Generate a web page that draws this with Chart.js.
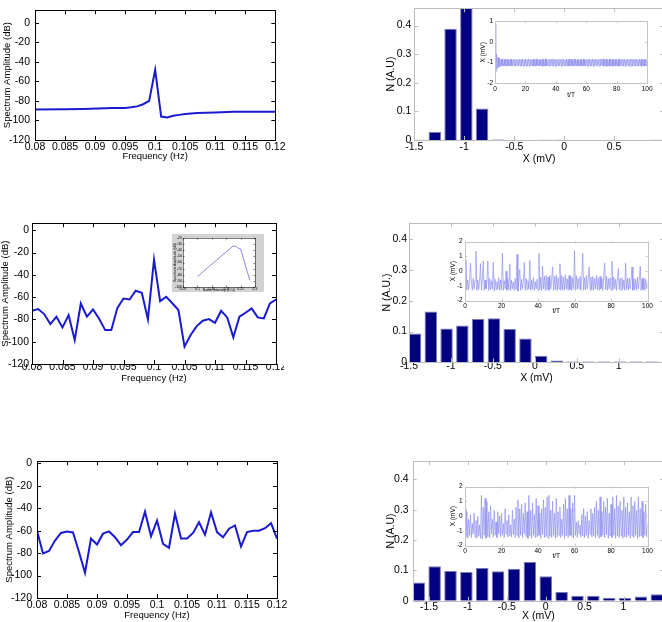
<!DOCTYPE html>
<html>
<head>
<meta charset="utf-8">
<script src="https://cdn.jsdelivr.net/npm/chart.js@4.4.1/dist/chart.umd.min.js"></script>
<style>
  html, body { margin: 0; padding: 0; background: #fff; overflow: hidden; }
  body { position: relative; width: 662px; height: 622px; }
  canvas { position: absolute; }
</style>
</head>
<body>
<script>
// ---- spectra (left column) ----
const freqTicks = [0.08, 0.085, 0.09, 0.095, 0.1, 0.105, 0.11, 0.115, 0.12];
const ampTicks = [-120, -100, -80, -60, -40, -20, 0];

const spec1Freq = [0.080, 0.085, 0.088, 0.093, 0.095, 0.096, 0.097, 0.098, 0.099, 0.100,
                   0.101, 0.102, 0.103, 0.104, 0.105, 0.107, 0.110, 0.113, 0.120];
const spec1Amp = [-88.9, -88.6, -88.2, -87.3, -87.2, -86.6, -85.6, -83.4, -80, -48.3,
                  -96, -97, -95.2, -94.3, -93.5, -92.5, -92, -91.2, -91.1];

const specFreq = [0.080, 0.081, 0.082, 0.083, 0.084, 0.085, 0.086, 0.087, 0.088, 0.089,
                  0.090, 0.091, 0.092, 0.093, 0.094, 0.095, 0.096, 0.097, 0.098, 0.099,
                  0.100, 0.101, 0.102, 0.103, 0.104, 0.105, 0.106, 0.107, 0.108, 0.109,
                  0.110, 0.111, 0.112, 0.113, 0.114, 0.115, 0.116, 0.117, 0.118, 0.119, 0.120];
const spec2Amp = [-72.2, -70.7, -75.2, -84.2, -77.6, -87.2, -76.1, -98.5, -65.7, -77.6,
                  -71, -79.4, -89.6, -89.6, -69.6, -61.2, -62.1, -54.3, -56.1, -80,
                  -26.3, -63.6, -59.7, -65.5, -71.6, -104.5, -94, -86, -81.2, -79.7,
                  -83, -72.2, -78.2, -96.1, -77.6, -74, -70.1, -78.2, -79.1, -65.7, -62.1];
const spec3Amp = [-60, -80.2, -78.1, -68.8, -62, -60.6, -61.5, -79, -97.5, -67,
                  -72.3, -62.6, -60.6, -65.8, -72.9, -67.9, -61.2, -61.2, -43, -65,
                  -50.9, -71.7, -75.2, -44.8, -67, -67, -62, -52.4, -63.5, -43.6,
                  -61.2, -65.8, -58.2, -55.3, -74, -61.2, -60, -60, -57.7, -53.3, -67];

// small inset: amplitude at 0.1 Hz vs noise intensity
const noiseTicks = [0.05, 0.1, 0.15, 0.2, 0.25, 0.3];
const noiseAmpTicks = [-100, -90, -80, -70, -60, -50, -40, -30, -20];
const noiseD = [0.1, 0.204, 0.212, 0.224, 0.235, 0.243, 0.25, 0.282];
const noiseAmp = [-83, -41, -38, -33, -34, -37, -38, -89];

// ---- histograms (right column) ----
const histTicks1 = [-1.5, -1, -0.5, 0, 0.5];
const histTicks = [-1.5, -1, -0.5, 0, 0.5, 1];
const countTicks = [0, 0.1, 0.2, 0.3, 0.4];

const histX1 = [-1.453, -1.295, -1.137, -0.979, -0.821, -0.663, -0.505, -0.347,
                -0.189, -0.031, 0.127, 0.285, 0.443, 0.601, 0.759, 0.917];
const histN1 = [0.001, 0.028, 0.389, 0.47, 0.11, 0.002, 0, 0, 0.001, 0.001, 0, 0, 0, 0, 0, 0.001];

const histX2 = [-1.428, -1.24, -1.052, -0.864, -0.676, -0.488, -0.3, -0.112,
                0.076, 0.264, 0.452, 0.64, 0.828, 1.016, 1.204, 1.392];
const histN2 = [0.094, 0.165, 0.11, 0.12, 0.141, 0.143, 0.108, 0.077,
                0.021, 0.006, 0.003, 0.003, 0.003, 0.003, 0.003, 0.003];

const histX3 = [-1.632, -1.428, -1.224, -1.02, -0.816, -0.612, -0.408, -0.204,
                0, 0.204, 0.408, 0.612, 0.816, 1.02, 1.224, 1.428];
const histN3 = [0.06, 0.114, 0.098, 0.095, 0.108, 0.097, 0.105, 0.128,
                0.081, 0.029, 0.016, 0.016, 0.01, 0.009, 0.014, 0.021];

// ---- time series insets, one sample every 0.5 t/T ----
const tTicks = [0, 20, 40, 60, 80, 100];
const xTicks1 = [-2, -1, 0, 1];
const xTicks = [-2, -1, 0, 1, 2];
const sampleStep = 0.5;

const trace1 = [
  0.9, -1.45, -0.6, -1.3, -0.75, -1.22, -0.8, -1.18, -0.84, -1.16, -0.82, -1.17, -0.85, -1.15, -0.83, -1.18, -0.84, -1.16, -0.86, -1.15,
  -0.84, -1.16, -0.82, -1.17, -0.85, -1.15, -0.83, -1.18, -0.84, -1.16, -0.86, -1.15, -0.82, -1.17, -0.84, -1.16, -0.83, -1.18, -0.85, -1.15,
  -0.83, -1.17, -0.85, -1.16, -0.82, -1.18, -0.84, -1.15, -0.86, -1.17, -0.83, -1.16, -0.85, -1.18, -0.82, -1.15, -0.84, -1.17, -0.86, -1.16,
  -0.85, -1.15, -0.83, -1.18, -0.84, -1.16, -0.82, -1.17, -0.85, -1.15, -0.86, -1.18, -0.83, -1.16, -0.84, -1.17, -0.82, -1.15, -0.85, -1.18,
  -0.84, -1.17, -0.86, -1.15, -0.83, -1.16, -0.85, -1.18, -0.82, -1.17, -0.84, -1.15, -0.86, -1.16, -0.83, -1.18, -0.85, -1.17, -0.82, -1.16,
  -0.83, -1.16, -0.85, -1.18, -0.84, -1.15, -0.82, -1.17, -0.86, -1.16, -0.83, -1.18, -0.85, -1.15, -0.84, -1.17, -0.82, -1.16, -0.86, -1.15,
  -0.85, -1.18, -0.83, -1.16, -0.84, -1.17, -0.86, -1.15, -0.82, -1.18, -0.85, -1.16, -0.83, -1.17, -0.84, -1.15, -0.86, -1.18, -0.82, -1.16,
  -0.84, -1.15, -0.82, -1.17, -0.85, -1.16, -0.83, -1.18, -0.86, -1.15, -0.84, -1.17, -0.82, -1.16, -0.85, -1.18, -0.83, -1.15, -0.84, -1.17,
  -0.86, -1.16, -0.84, -1.18, -0.82, -1.15, -0.85, -1.17, -0.83, -1.16, -0.84, -1.18, -0.86, -1.15, -0.82, -1.17, -0.85, -1.16, -0.83, -1.18,
  -0.82, -1.17, -0.85, -1.15, -0.83, -1.18, -0.84, -1.16, -0.86, -1.17, -0.82, -1.15, -0.84, -1.18, -0.85, -1.16, -0.83, -1.17, -0.86, -1.15,
  -0.84
];

const trace2 = [
  -0.7, 0.8, -1.3, -0.6, -1.25, -0.55, 0.55, -0.7, -1.3, -0.5,
  -1.2, -0.65, 1.35, -1.3, -0.6, -1.25, -0.75, 0.5, -1.3, -0.55,
  0.68, -1.3, -0.6, -1.2, -0.7, 0.68, -1.3, -0.5, -1.25, -0.65,
  -1.2, 0.6, -1.35, -0.55, -1.25, -0.7, -1.2, -0.45, -1.3, -0.6,
  -1.25, 1.2, -1.3, -0.65, -1.2, 0.0, -1.3, -0.55, -1.25, 0.5,
  -1.3, -0.6, -1.2, -0.75, -1.3, -0.5, -1.25, 1.13, -1.35, -0.6,
  0.1, -1.3, -0.55, -1.2, -0.7, 0.6, -1.3, -0.5, -1.25, -0.65,
  -1.2, 0.72, -1.3, -0.6, -1.25, -0.45, -1.3, -0.7, -1.2, -0.55,
  -1.3, 1.2, -1.25, -0.4, -1.3, 0.33, -1.2, -0.35, -1.3, -0.3,
  -1.25, -0.4, -1.3, -0.3, -1.2, -0.5, 0.28, -1.3, -0.35, -1.25,
  -0.25, -1.3, -0.45, -1.2, 0.5, -1.3, -0.3, -1.25, -0.4, -1.3,
  -0.25, -1.2, -0.5, -1.3, -0.3, -1.25, -0.35, -1.3, -0.45, -1.2,
  1.4, -1.3, -0.3, -1.25, -0.5, -1.2, -0.35, -1.3, -0.4, 1.2,
  -1.3, -0.45, -1.25, -0.3, -1.2, -0.55, 0.28, -1.3, -0.4, -1.25,
  -0.35, -1.3, -0.5, -1.2, -0.3, -1.25, -0.45, -1.3, -0.35, -1.2,
  -0.5, -1.3, -0.4, 0.55, -1.25, -0.35, -1.3, -0.5, -1.2, -0.45,
  -1.3, 0.68, -1.25, -0.4, -1.2, -0.55, -1.3, -0.45, 0.17, -1.25,
  -0.5, -1.3, -0.45, -1.2, -0.6, -1.3, 0.55, -1.25, -0.5, -1.3,
  -0.45, -1.2, -0.6, 0.28, -1.3, -0.5, -1.25, -0.55, -1.3, -0.4,
  -1.2, -0.6, 0.33, -1.3, -0.5, -1.25, -0.45, -1.3, -0.55, -1.2,
  -0.7
];

const trace3 = [
  0.5, -1.4, 0.3, -1.5, -0.2, -1.3, 0.1, -1.45, -0.5, -1.2,
  0.2, -1.4, -0.3, -1.5, 0.0, -1.35, -0.6, -1.5, 1.4, -1.55,
  0.6, -1.3, 1.2, -1.5, 1.0, -1.4, 0.3, -1.45, 0.7, -1.2,
  -0.2, -1.4, 0.4, -1.3, -0.4, -1.45, 0.3, -1.2, 0.0, -1.4,
  0.2, -1.3, -0.5, -1.45, 0.5, -1.2, -0.3, -1.4, 0.1, -1.35,
  -0.6, -1.4, 0.4, -1.25, -0.2, -1.45, 0.6, -1.3, 1.1, -1.5,
  0.5, -1.3, 0.8, -1.45, 0.2, -1.2, 0.9, -1.4, 0.3, -1.5,
  1.4, -1.35, 0.4, -1.5, 0.9, -1.3, 0.1, -1.45, 1.2, -1.4,
  0.7, -1.3, 0.2, -1.5, 0.5, -1.25, 1.1, -1.45, 0.6, -1.4,
  1.3, -1.5, 1.4, -1.35, 0.4, -1.45, 1.0, -1.3, 0.2, -1.5,
  1.2, -1.4, 0.3, -1.3, 0.6, -1.45, -0.2, -1.3, 0.8, -1.5,
  1.2, -1.35, 0.5, -1.45, 1.4, -1.3, 0.5, -1.4, 0.9, -1.5,
  1.4, -1.3, -0.4, -1.45, -0.3, -1.2, -0.6, -1.4, 0.1, -1.35,
  0.5, -1.45, 0.0, -1.3, 0.3, -1.5, -0.3, -1.2, 0.5, -1.4,
  0.2, -1.35, 0.6, -1.45, 1.0, -1.3, 0.4, -1.5, 1.3, -1.4,
  0.3, -1.3, 1.0, -1.45, 0.6, -1.25, 1.2, -1.5, 0.2, -1.35,
  0.8, -1.45, 1.3, -1.3, 0.5, -1.5, 1.4, -1.35, 0.7, -1.45,
  1.0, -1.3, 0.4, -1.5, 1.3, -1.4, 0.6, -1.45, 0.9, -1.3,
  0.3, -1.5, 1.3, -1.35, 0.7, -1.45, 1.0, -1.3, 0.4, -1.5,
  1.3, -1.4, 0.5, -1.35, 1.0, -1.45, 0.3, -1.3, 0.8, -1.4,
  -0.5
];

const FONT = "'Liberation Sans', Arial, Helvetica, sans-serif";

// MATLAB-like box with inward tick marks on all four sides
const boxPlugin = {
  id: 'matlabBox',
  beforeDraw(chart, args, opts) {
    const ctx = chart.ctx, a = chart.chartArea;
    ctx.save();
    if (opts.paper) { ctx.fillStyle = opts.paper; ctx.fillRect(0, 0, chart.width, chart.height); }
    if (opts.face) { ctx.fillStyle = opts.face; ctx.fillRect(a.left, a.top, a.right - a.left, a.bottom - a.top); }
    ctx.restore();
  },
  afterDraw(chart, args, opts) {
    const ctx = chart.ctx, a = chart.chartArea, len = opts.len || 4;
    const xs = chart.scales.x, ys = chart.scales.y;
    ctx.save();
    ctx.strokeStyle = opts.color || '#000';
    ctx.lineWidth = opts.width || 1;
    ctx.beginPath();
    xs.ticks.forEach(t => {
      const px = Math.round(xs.getPixelForValue(t.value)) + 0.5;
      ctx.moveTo(px, a.bottom); ctx.lineTo(px, a.bottom - len);
      ctx.moveTo(px, a.top); ctx.lineTo(px, a.top + len);
    });
    ys.ticks.forEach(t => {
      const py = Math.round(ys.getPixelForValue(t.value)) + 0.5;
      ctx.moveTo(a.left, py); ctx.lineTo(a.left + len, py);
      ctx.moveTo(a.right, py); ctx.lineTo(a.right - len, py);
    });
    ctx.stroke();
    const l = Math.round(a.left) + 0.5, t = Math.round(a.top) + 0.5;
    ctx.strokeRect(l, t, Math.round(a.right) - Math.round(a.left), Math.round(a.bottom) - Math.round(a.top));
    ctx.restore();
  }
};

function panel(g) {
  const tSize = g.title, kSize = g.tick;
  const L = g.box ? g.box.l : Math.floor(g.yTitleX - tSize / 2);
  const T = g.box ? g.box.t : Math.max(0, Math.floor(g.plot.t - (g.topPad ?? 8)));
  const R = g.box ? g.box.r : Math.ceil(g.plot.r + (g.rightPad ?? 3));
  const B = g.box ? g.box.b : Math.ceil(g.xTitleY + tSize / 2);

  const cv = document.createElement('canvas');
  cv.width = R - L; cv.height = B - T;
  cv.style.left = L + 'px'; cv.style.top = T + 'px';
  cv.style.width = (R - L) + 'px'; cv.style.height = (B - T) + 'px';
  document.body.appendChild(cv);

  const yWidth = g.plot.l - L;
  const xHeight = B - g.plot.b;
  const tickFont = { family: FONT, size: kSize, lineHeight: 1 };
  const titleFont = { family: FONT, size: tSize, lineHeight: 1 };

  return new Chart(cv, {
    type: g.type,
    data: { datasets: g.datasets },
    options: {
      responsive: false,
      animation: false,
      events: [],
      devicePixelRatio: 1,
      layout: { autoPadding: false, padding: { left: 0, bottom: 0, top: g.plot.t - T, right: R - g.plot.r } },
      plugins: {
        legend: { display: false },
        tooltip: { enabled: false },
        matlabBox: g.boxStyle
      },
      scales: {
        x: {
          type: 'linear', min: g.xMin, max: g.xMax, offset: false,
          afterBuildTicks: s => { s.ticks = g.xTicks.map(v => ({ value: v })); },
          afterFit: s => { s.height = xHeight; },
          grid: { display: false, drawTicks: false }, border: { display: false },
          ticks: { autoSkip: false, maxRotation: 0, color: '#000', font: tickFont,
                   padding: g.xGap - kSize / 2, callback: v => String(v) },
          title: { display: true, text: g.xTitle, color: '#000', font: titleFont,
                   padding: { top: 0, bottom: B - (g.xTitleY + tSize / 2) } }
        },
        y: {
          type: 'linear', min: g.yMin, max: g.yMax,
          afterBuildTicks: s => { s.ticks = g.yTicks.map(v => ({ value: v })); },
          afterFit: s => { s.width = yWidth; },
          grid: { display: false, drawTicks: false }, border: { display: false },
          ticks: { autoSkip: false, color: '#000', font: tickFont,
                   padding: g.yGap, callback: v => String(v) },
          title: { display: true, text: g.yTitle, color: '#000', font: titleFont,
                   padding: { top: (g.yTitleX - tSize / 2) - L, bottom: 0 } }
        }
      }
    },
    plugins: [boxPlugin]
  });
}

const pts = (xs, ys) => ys.map((y, i) => ({ x: xs[i], y }));
const series = ys => ys.map((y, i) => ({ x: i * sampleStep, y }));

const specLine = data => [{ data, borderColor: '#1a1ad0', borderWidth: 2, pointRadius: 0, tension: 0, fill: false }];
const bars = data => [{ data, backgroundColor: '#000080', borderColor: '#7a7ab8', borderWidth: 1,
                        barPercentage: 0.79, categoryPercentage: 1 }];
const trace = data => [{ data, borderColor: 'rgba(140,140,238,0.75)', borderWidth: 0.9, pointRadius: 0, tension: 0, fill: false }];

const blackBox = { color: '#000', len: 4 };
const greyBox = { color: '#bdbdbd', len: 4 };
const insetBox = { color: '#c4c4c4', len: 2, face: '#fff' };

const specBase = { type: 'line', xMin: 0.08, xMax: 0.12, xTicks: freqTicks, yTicks: ampTicks, yMin: -120,
                   xTitle: 'Frequency (Hz)', yTitle: 'Spectrum Amplitude (dB)', tick: 10.5, title: 9.5, boxStyle: blackBox };
const histBase = { type: 'bar', yMin: 0, yTicks: countTicks, xTitle: 'X (mV)', tick: 10.5, title: 10.5, boxStyle: greyBox };
const traceBase = { type: 'line', xMin: 0, xMax: 100, xTicks: tTicks, xTitle: 't/T', yTitle: 'X (mV)',
                    tick: 6.5, title: 6.5, boxStyle: insetBox, topPad: 5, rightPad: 6 };

// left column
panel({ ...specBase, plot: { l: 35, t: 0, r: 284, b: 140 }, yMax: 12.7, yTitleX: 7.3, xTitleY: 156.7, xGap: 6.7, yGap: 5,
        datasets: specLine(pts(spec1Freq, spec1Amp)) });
panel({ ...specBase, plot: { l: 32, t: 223, r: 281, b: 364 }, yMax: 6.3, yTitleX: 5, xTitleY: 378, xGap: 3, yGap: 3,
        datasets: specLine(pts(specFreq, spec2Amp)) });
panel({ ...specBase, plot: { l: 37, t: 459, r: 286, b: 598 }, yMax: 2, yTitleX: 9.3, xTitleY: 615, xGap: 7, yGap: 5,
        datasets: specLine(pts(specFreq, spec3Amp)) });

// inset of the middle spectrum
panel({ type: 'line', box: { l: 172, t: 234, r: 264, b: 292 }, plot: { l: 183, t: 238, r: 255, b: 287 },
        xMin: 0.05, xMax: 0.3, xTicks: noiseTicks, yMin: -100, yMax: -20, yTicks: noiseAmpTicks,
        xTitle: 'Noise Intensity (D.U)', yTitle: 'Spectrum Amplitude (dB)', tick: 3.5, title: 3.5,
        yTitleX: 175.5, xTitleY: 290, xGap: 2.3, yGap: 1,
        boxStyle: { color: '#000', len: 1.5, paper: '#d2d2d2', face: '#fff', width: 0.5 },
        datasets: [{ data: pts(noiseD, noiseAmp), borderColor: '#6a6ad8', borderWidth: 0.8, pointRadius: 0, tension: 0 }] });

// right column
panel({ ...histBase, plot: { l: 414.3, t: 0, r: 664, b: 140 }, xMin: -1.5, xMax: 1.0, xTicks: histTicks1, yMax: 0.4605,
        yTitle: 'N (A.U)', yTitleX: 391, xTitleY: 159, xGap: 6.7, yGap: 3, rightPad: 2,
        datasets: bars(pts(histX1, histN1)) });
panel({ ...histBase, plot: { l: 409, t: 222.7, r: 664, b: 362.3 }, xMin: -1.5, xMax: 1.54, xTicks: histTicks, yMax: 0.454,
        yTitle: 'N (A.U.)', yTitleX: 386.7, xTitleY: 378, xGap: 3.7, yGap: 2, rightPad: 2,
        datasets: bars(pts(histX2, histN2)) });
panel({ ...histBase, plot: { l: 412.7, t: 460, r: 664, b: 600.7 }, xMin: -1.71, xMax: 1.52, xTicks: histTicks, yMax: 0.46,
        yTitle: 'N (A.U)', yTitleX: 391, xTitleY: 615.7, xGap: 6, yGap: 4, rightPad: 2,
        datasets: bars(pts(histX3, histN3)) });

// time series insets
panel({ ...traceBase, plot: { l: 495, t: 21, r: 648.3, b: 83.3 }, yMin: -2, yMax: 1, yTicks: xTicks1,
        yTitleX: 483.3, xTitleY: 95, xGap: 5.7, yGap: 2, datasets: trace(series(trace1)) });
panel({ ...traceBase, plot: { l: 465, t: 241, r: 649, b: 300.7 }, yMin: -2, yMax: 2, yTicks: xTicks,
        yTitleX: 453.3, xTitleY: 311, xGap: 5.3, yGap: 2.3, datasets: trace(series(trace2)) });
panel({ ...traceBase, plot: { l: 465, t: 486, r: 649, b: 545.7 }, yMin: -2, yMax: 2, yTicks: xTicks,
        yTitleX: 453.3, xTitleY: 556, xGap: 5.3, yGap: 2.3, datasets: trace(series(trace3)) });
</script>
</body>
</html>
